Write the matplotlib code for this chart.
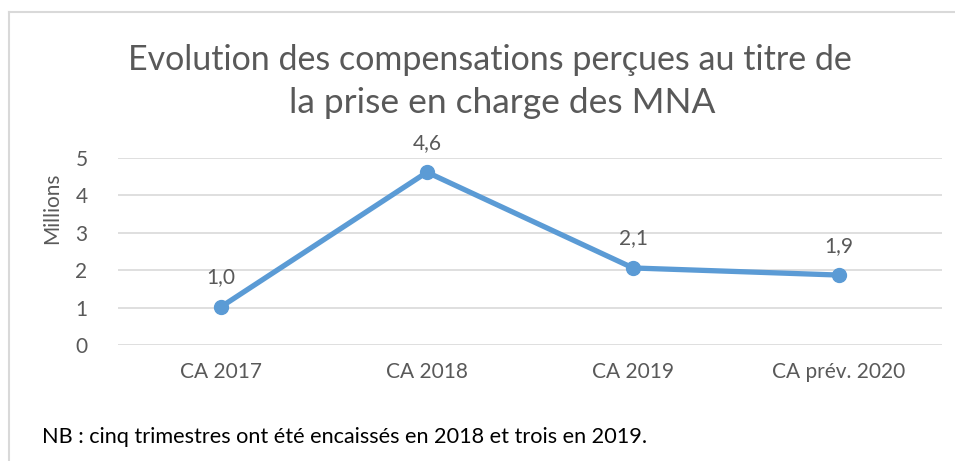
import matplotlib.pyplot as plt
from matplotlib.lines import Line2D

categories = ['CA 2017', 'CA 2018', 'CA 2019', 'CA prév. 2020']
values = [1.02, 4.62, 2.06, 1.87]
yticks = [0, 1, 2, 3, 4, 5]

plt.rcParams['font.family'] = ['Lato', 'DejaVu Sans']
grey = '#595959'
blue = '#5B9BD5'

fig = plt.figure(figsize=(9.55, 4.61), dpi=100)
W, H = 955, 461
ax = fig.add_axes([118 / W, 1 - 345 / H, (942 - 118) / W, (345 - 158) / H])

x = range(len(categories))
ax.plot(x, values, color=blue, linewidth=3.8, marker='o', markersize=10,
        solid_capstyle='round', zorder=3)
for i, v in enumerate(values):
    ax.annotate(f'{v:.1f}'.replace('.', ','), (i, v), xytext=(0, 14),
                textcoords='offset points', ha='center', va='bottom',
                fontsize=15, color=grey)

ax.set_xlim(-0.5, len(categories) - 0.5)
ax.set_ylim(0, 5)
ax.set_yticks(yticks)
ax.set_xticks(list(x))
ax.set_xticklabels(categories)
ax.grid(axis='y', color='#D9D9D9', linewidth=1.2)
ax.set_axisbelow(True)
for s in ax.spines.values():
    s.set_visible(False)
ax.tick_params(length=0, labelsize=15, colors=grey)
ax.tick_params(axis='x', pad=12)
ax.tick_params(axis='y', pad=22)

fig.text(52 / W, 1 - 208 / H, 'Millions', rotation=90, ha='center', va='center',
         fontsize=15, color=grey)

fig.text(490 / W, 1 - 60 / H, 'Evolution des compensations perçues au titre de',
         ha='center', va='center', fontsize=24.5, color=grey)
fig.text(502 / W, 1 - 103 / H, 'la prise en charge des MNA',
         ha='center', va='center', fontsize=25.5, color=grey)

fig.text(42 / W, 1 - 437 / H,
         'NB : cinq trimestres ont été encaissés en 2018 et trois en 2019.',
         ha='left', va='center', fontsize=15.6, color='black')

# chart frame (top and left edges visible)
fig.add_artist(Line2D([8.5 / W, 1], [1 - 12.5 / H, 1 - 12.5 / H],
                      color='#D9D9D9', linewidth=1.5))
fig.add_artist(Line2D([8.5 / W, 8.5 / W], [0, 1 - 12.5 / H],
                      color='#D9D9D9', linewidth=1.5))

fig.savefig('out.png', dpi=100)
